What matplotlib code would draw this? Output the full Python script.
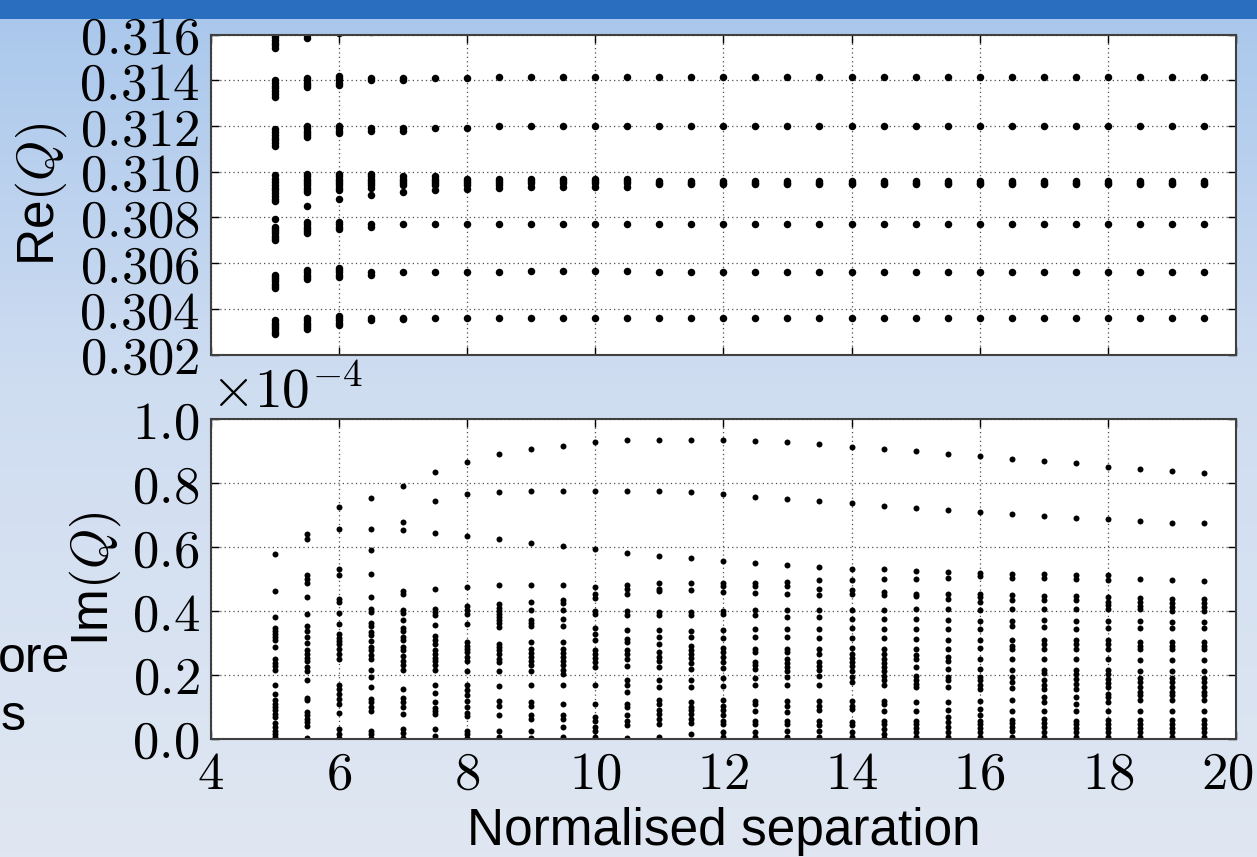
import matplotlib

matplotlib.use("Agg")
import matplotlib.pyplot as plt
import numpy as np
from matplotlib.colors import LinearSegmentedColormap
from matplotlib.patches import Rectangle
from matplotlib.ticker import FuncFormatter
from matplotlib.transforms import ScaledTranslation

# ---------------------------------------------------------------- data
sep = [5.0, 5.5, 6.0, 6.5, 7.0, 7.5, 8.0, 8.5, 9.0, 9.5,
       10.0, 10.5, 11.0, 11.5, 12.0, 12.5, 13.0, 13.5, 14.0, 14.5,
       15.0, 15.5, 16.0, 16.5, 17.0, 17.5, 18.0, 18.5, 19.0, 19.5]

# Re(Q) values per separation column
re_near = [
    [0.3160, 0.31588, 0.31576, 0.31564, 0.31552, 0.31543,
     0.3140, 0.31388, 0.31376, 0.31364, 0.31352, 0.3134, 0.31328,
     0.31185, 0.31173, 0.31161, 0.31149, 0.31137, 0.31125, 0.31112,
     0.30985, 0.30966, 0.30954, 0.30942, 0.3093, 0.30918, 0.30906, 0.30894, 0.30882, 0.3087,
     0.30791, 0.3076, 0.3075, 0.3074, 0.3073, 0.3072, 0.3071, 0.3070,
     0.3055, 0.3054, 0.3053, 0.3052, 0.3051, 0.3050, 0.3049,
     0.3035, 0.3034, 0.3033, 0.3032, 0.3031, 0.3030, 0.3029],
    [0.3160, 0.31585, 0.3141, 0.3140, 0.3139, 0.3138, 0.3137,
     0.3120, 0.3119, 0.3118, 0.3117, 0.3116, 0.3115,
     0.3099, 0.3098, 0.3097, 0.3096, 0.3095, 0.3094, 0.3093, 0.3092, 0.3091, 0.3085,
     0.3078, 0.3077, 0.3076, 0.3075, 0.3074, 0.3073,
     0.3057, 0.3056, 0.3055, 0.3054, 0.3053,
     0.3036, 0.3035, 0.3034, 0.3033, 0.3032, 0.3031],
    [0.31605, 0.3142, 0.3141, 0.3140, 0.3139, 0.3138,
     0.3120, 0.3119, 0.3118, 0.3117,
     0.3099, 0.3098, 0.3097, 0.3096, 0.3095, 0.3094, 0.3093, 0.3092, 0.3088,
     0.3078, 0.3077, 0.3076, 0.3075,
     0.3058, 0.3057, 0.3056, 0.3055, 0.3054,
     0.3037, 0.3036, 0.3035, 0.3034, 0.3033],
    [0.31612, 0.3141, 0.3140, 0.3119, 0.3118,
     0.3099, 0.3098, 0.3097, 0.3096, 0.3095, 0.3094, 0.3093, 0.3090,
     0.3077, 0.3076, 0.3056, 0.3055, 0.3036, 0.3035],
    [0.3141, 0.3140, 0.3119, 0.3118, 0.3098, 0.3097, 0.3096, 0.3095, 0.3094, 0.3091,
     0.3077, 0.3056, 0.3036, 0.30355],
    [0.3141, 0.3119, 0.3098, 0.3097, 0.3096, 0.3095, 0.3094, 0.3092, 0.3077, 0.3056, 0.3036],
    [0.3141, 0.3119, 0.3097, 0.3096, 0.3095, 0.3094, 0.30925, 0.3077, 0.3056, 0.3036],
    [0.31415, 0.3120, 0.3097, 0.3096, 0.3095, 0.3094, 0.3093, 0.3077, 0.3056, 0.3036],
]
# columns 9.0 .. 10.5 and 11.0 .. 19.5 sit on the same levels
re_mid_levels = [0.31415, 0.3120, 0.3097, 0.3096, 0.3095, 0.30935, 0.3077, 0.30565, 0.3036]
re_far_levels = [0.31415, 0.3120, 0.3096, 0.3095, 0.30945, 0.3077, 0.3056, 0.3036]
re_cols = re_near + [re_mid_levels] * 4 + [re_far_levels] * 18

# Im(Q) in units of 1e-4
IM_SCALE = 1e-4
im_top = [0.576, 0.640, 0.725, 0.753, 0.791, 0.833, 0.864, 0.889, 0.906, 0.916,
          0.927, 0.934, 0.934, 0.934, 0.934, 0.931, 0.927, 0.921, 0.913, 0.906,
          0.900, 0.892, 0.885, 0.875, 0.868, 0.861, 0.851, 0.843, 0.837, 0.830]
im_mid = [np.nan, 0.625, 0.655, 0.655, 0.678, 0.742, 0.764, 0.770, 0.774, 0.774,
          0.774, 0.774, 0.774, 0.770, 0.764, 0.756, 0.749, 0.743, 0.736, 0.729,
          0.722, 0.715, 0.708, 0.704, 0.697, 0.691, 0.687, 0.680, 0.676, 0.673]
im_cluster = [
    [0.461, 0.380, 0.347, 0.338, 0.328, 0.317, 0.307, 0.286, 0.248, 0.237, 0.226, 0.215,
     0.169, 0.140, 0.119, 0.109, 0.098, 0.088, 0.077, 0.067, 0.048, 0.036, 0.025, 0.015, 0.004],
    [0.511, 0.500, 0.488, 0.443, 0.389, 0.351, 0.338, 0.317, 0.299, 0.276, 0.265, 0.253, 0.242,
     0.224, 0.211, 0.182, 0.127, 0.119, 0.083, 0.072, 0.062, 0.051, 0.038, 0.002],
    [0.532, 0.511, 0.438, 0.427, 0.393, 0.357, 0.326, 0.315, 0.305, 0.295, 0.281, 0.265, 0.250,
     0.166, 0.154, 0.140, 0.124, 0.109, 0.079, 0.030, 0.015, 0.002],
    [0.589, 0.516, 0.443, 0.406, 0.396, 0.361, 0.351, 0.333, 0.323, 0.304, 0.286, 0.276, 0.260,
     0.250, 0.213, 0.192, 0.161, 0.124, 0.114, 0.098, 0.086, 0.023, 0.015, 0.002],
    [0.652, 0.461, 0.453, 0.403, 0.393, 0.372, 0.347, 0.336, 0.317, 0.307, 0.286, 0.276, 0.257,
     0.244, 0.229, 0.215, 0.154, 0.127, 0.114, 0.098, 0.077, 0.030, 0.017, 0.002],
    [0.642, 0.467, 0.406, 0.396, 0.385, 0.354, 0.320, 0.309, 0.297, 0.278, 0.265, 0.253, 0.242,
     0.229, 0.213, 0.166, 0.143, 0.114, 0.096, 0.086, 0.077, 0.030, 0.009],
    [0.634, 0.474, 0.414, 0.401, 0.389, 0.359, 0.302, 0.291, 0.281, 0.271, 0.255, 0.244, 0.211,
     0.166, 0.152, 0.135, 0.117, 0.098, 0.079, 0.069, 0.025, 0.013, 0.002],
    [0.624, 0.479, 0.420, 0.410, 0.400, 0.390, 0.380, 0.370, 0.361, 0.350, 0.297, 0.286, 0.276,
     0.263, 0.250, 0.239, 0.210, 0.163, 0.117, 0.103, 0.072, 0.025, 0.004],
    [0.613, 0.479, 0.427, 0.403, 0.372, 0.361, 0.351, 0.302, 0.281, 0.267, 0.255, 0.242, 0.229,
     0.211, 0.166, 0.114, 0.103, 0.072, 0.061, 0.025, 0.002],
    [0.603, 0.479, 0.434, 0.424, 0.403, 0.375, 0.351, 0.302, 0.281, 0.267, 0.255, 0.242, 0.229,
     0.213, 0.201, 0.169, 0.109, 0.072, 0.061, 0.036, 0.004],
    [0.592, 0.474, 0.451, 0.441, 0.399, 0.389, 0.347, 0.328, 0.309, 0.278, 0.265, 0.253, 0.239,
     0.224, 0.169, 0.107, 0.067, 0.056, 0.036, 0.023, 0.004],
    [0.582, 0.479, 0.469, 0.451, 0.399, 0.385, 0.340, 0.312, 0.302, 0.276, 0.263, 0.250, 0.226,
     0.182, 0.166, 0.145, 0.109, 0.098, 0.072, 0.056, 0.041, 0.002],
    [0.571, 0.487, 0.469, 0.462, 0.396, 0.385, 0.340, 0.317, 0.295, 0.271, 0.255, 0.242, 0.224,
     0.184, 0.161, 0.119, 0.109, 0.088, 0.077, 0.061, 0.046, 0.004],
    [0.565, 0.488, 0.466, 0.396, 0.385, 0.338, 0.317, 0.288, 0.276, 0.265, 0.253, 0.236, 0.218,
     0.184, 0.161, 0.114, 0.100, 0.088, 0.077, 0.061, 0.048, 0.013],
    [0.555, 0.487, 0.476, 0.458, 0.399, 0.389, 0.340, 0.315, 0.284, 0.271, 0.255, 0.239, 0.221,
     0.190, 0.164, 0.119, 0.103, 0.088, 0.072, 0.056, 0.044, 0.020, 0.006],
    [0.550, 0.487, 0.477, 0.456, 0.401, 0.385, 0.343, 0.317, 0.281, 0.271, 0.239, 0.229, 0.218,
     0.189, 0.166, 0.117, 0.107, 0.086, 0.056, 0.046, 0.020, 0.004],
    [0.544, 0.490, 0.477, 0.451, 0.401, 0.380, 0.343, 0.317, 0.281, 0.271, 0.250, 0.236, 0.224,
     0.211, 0.192, 0.168, 0.117, 0.103, 0.083, 0.056, 0.044, 0.023, 0.004],
    [0.537, 0.495, 0.469, 0.448, 0.401, 0.380, 0.343, 0.315, 0.281, 0.265, 0.239, 0.226, 0.213,
     0.197, 0.168, 0.117, 0.103, 0.088, 0.054, 0.041, 0.023, 0.004],
    [0.532, 0.495, 0.466, 0.453, 0.401, 0.375, 0.347, 0.315, 0.284, 0.265, 0.253, 0.239, 0.226,
     0.211, 0.194, 0.177, 0.117, 0.103, 0.092, 0.051, 0.041, 0.020, 0.004],
    [0.530, 0.498, 0.458, 0.448, 0.401, 0.375, 0.343, 0.315, 0.281, 0.265, 0.250, 0.236, 0.224,
     0.211, 0.197, 0.182, 0.168, 0.117, 0.107, 0.086, 0.056, 0.046, 0.030, 0.015, 0.002],
    [0.523, 0.498, 0.453, 0.445, 0.404, 0.373, 0.343, 0.310, 0.281, 0.260, 0.250, 0.224, 0.197,
     0.184, 0.171, 0.161, 0.114, 0.086, 0.056, 0.046, 0.033, 0.020, 0.004],
    [0.521, 0.502, 0.453, 0.438, 0.406, 0.372, 0.343, 0.309, 0.281, 0.255, 0.244, 0.218, 0.192,
     0.182, 0.161, 0.114, 0.088, 0.067, 0.051, 0.036, 0.020, 0.004],
    [0.518, 0.508, 0.453, 0.443, 0.427, 0.403, 0.369, 0.343, 0.307, 0.284, 0.250, 0.218, 0.194,
     0.182, 0.169, 0.156, 0.117, 0.092, 0.072, 0.056, 0.046, 0.033, 0.020, 0.004],
    [0.516, 0.503, 0.450, 0.434, 0.406, 0.369, 0.351, 0.309, 0.288, 0.281, 0.250, 0.215, 0.192,
     0.177, 0.159, 0.119, 0.085, 0.058, 0.048, 0.036, 0.023, 0.006],
    [0.516, 0.503, 0.445, 0.432, 0.406, 0.372, 0.349, 0.307, 0.295, 0.281, 0.250, 0.215, 0.205,
     0.184, 0.166, 0.156, 0.130, 0.114, 0.086, 0.061, 0.048, 0.036, 0.020, 0.006],
    [0.513, 0.500, 0.445, 0.432, 0.406, 0.368, 0.343, 0.307, 0.297, 0.281, 0.250, 0.215, 0.202,
     0.187, 0.171, 0.156, 0.130, 0.109, 0.086, 0.056, 0.046, 0.033, 0.020, 0.006],
    [0.511, 0.495, 0.443, 0.427, 0.417, 0.406, 0.368, 0.347, 0.309, 0.297, 0.281, 0.250, 0.213,
     0.201, 0.187, 0.174, 0.161, 0.140, 0.130, 0.114, 0.086, 0.058, 0.046, 0.033, 0.020, 0.006],
    [0.498, 0.441, 0.427, 0.415, 0.404, 0.368, 0.347, 0.302, 0.288, 0.281, 0.246, 0.211, 0.190,
     0.177, 0.161, 0.145, 0.135, 0.119, 0.086, 0.058, 0.046, 0.033, 0.020, 0.006],
    [0.495, 0.438, 0.424, 0.411, 0.399, 0.364, 0.347, 0.302, 0.288, 0.281, 0.246, 0.211, 0.190,
     0.177, 0.161, 0.145, 0.135, 0.119, 0.086, 0.058, 0.046, 0.033, 0.020, 0.006],
    [0.493, 0.438, 0.424, 0.411, 0.399, 0.364, 0.347, 0.302, 0.288, 0.281, 0.246, 0.211, 0.190,
     0.177, 0.161, 0.145, 0.135, 0.119, 0.086, 0.058, 0.046, 0.033, 0.020, 0.006],
]

re_ticks = [0.302, 0.304, 0.306, 0.308, 0.310, 0.312, 0.314, 0.316]
im_ticks = [0.0, 0.2, 0.4, 0.6, 0.8, 1.0]
x_ticks = [4, 6, 8, 10, 12, 14, 16, 18, 20]


def flatten(xs, cols, scale=1.0):
    px, py = [], []
    for x, col in zip(xs, cols):
        px.extend([x] * len(col))
        py.extend(v * scale for v in col)
    return np.array(px), np.array(py)


# ---------------------------------------------------------------- style
plt.rcParams.update(
    {
        "font.family": ["Liberation Sans", "DejaVu Sans"],
        "mathtext.fontset": "cm",
    }
)

W, H = 1257, 857
fig = plt.figure(figsize=(W / 100, H / 100), dpi=100)

# slide background
bg = fig.add_axes([0, 0, 1, 1], zorder=-10)
cmap = LinearSegmentedColormap.from_list(
    "slide",
    [(0.0, "#a9c7ec"), (0.45, "#cfddf1"), (1.0, "#e0e7f2")],
)
bg.imshow(np.linspace(0, 1, 256)[:, None], aspect="auto", cmap=cmap,
          extent=(0, 1, 0, 1), origin="upper")
bg.add_patch(Rectangle((0, 1 - 19 / H), 1, 19 / H, color="#2a6ebf", lw=0))
bg.set_xlim(0, 1)
bg.set_ylim(0, 1)
bg.axis("off")

# remnants of the slide's bullet text, partly hidden behind the chart
fig.text(70 / W, 1 - 672 / H, "ore", ha="right", va="baseline", fontsize=36)
fig.text(1 / W, 1 - 730 / H, "s", ha="left", va="baseline", fontsize=36)

left, width = 210.7 / W, 1025.3 / W
ax_re = fig.add_axes([left, 1 - 354.5 / H, width, 320 / H])
ax_im = fig.add_axes([left, 1 - 738.5 / H, width, 319.5 / H])

TICK_FS = 38
LABEL_FS = 37

for ax in (ax_re, ax_im):
    ax.set_facecolor("white")
    ax.set_xlim(4, 20)
    ax.set_xticks(x_ticks)
    ax.grid(True, color="0.3", linestyle=(0, (1, 2.5)), linewidth=0.9)
    ax.set_axisbelow(True)
    ax.tick_params(direction="in", length=6, width=1, top=True, right=True,
                   labelsize=TICK_FS, pad=8)
    for s in ax.spines.values():
        s.set_color("0.25")
        s.set_linewidth(1.5)

# upper panel
rx, ry = flatten(sep, re_cols)
ax_re.plot(rx, ry, linestyle="none", marker="o", ms=5.4, mew=0, color="k")
ax_re.set_ylim(0.302, 0.316)
ax_re.set_yticks(re_ticks)
ax_re.yaxis.set_major_formatter(FuncFormatter(lambda v, p: f"${v:.3f}$"))
ax_re.tick_params(axis="x", labelbottom=False)
ax_re.set_ylabel(r"Re$(Q)$", fontsize=LABEL_FS)
ax_re.yaxis.set_label_coords(-0.138, 0.5)

# lower panel
ix, iy = flatten(sep, im_cluster, IM_SCALE)
ax_im.plot(ix, iy, linestyle="none", marker="o", ms=4.3, mew=0, color="k")
ax_im.plot(sep, np.array(im_top) * IM_SCALE, linestyle="none", marker="o",
           ms=4.3, mew=0, color="k")
ax_im.plot(sep, np.array(im_mid) * IM_SCALE, linestyle="none", marker="o",
           ms=4.3, mew=0, color="k")
ax_im.set_ylim(0, 1.0 * IM_SCALE)
ax_im.set_yticks([t * IM_SCALE for t in im_ticks])
ax_im.yaxis.set_major_formatter(FuncFormatter(lambda v, p: f"${v / IM_SCALE:.1f}$"))
ax_im.xaxis.set_major_formatter(FuncFormatter(lambda v, p: f"${v:.0f}$"))
ax_im.text(0.0, 0.995, r"$\times10^{-4}$", transform=ax_im.transAxes,
           ha="left", va="bottom", fontsize=TICK_FS + 2)
ax_im.set_ylabel(r"Im$(Q)$", fontsize=LABEL_FS)
ax_im.yaxis.set_label_coords(-0.086, 0.5)
ax_im.set_xlabel("Normalised separation", fontsize=LABEL_FS, labelpad=5)

# the last x label sits against the right edge of the slide: nudge it in
fig.canvas.draw()
last = ax_im.get_xticklabels()[-1]
last.set_transform(last.get_transform() + ScaledTranslation(-0.09, 0, fig.dpi_scale_trans))

fig.savefig("out.png", dpi=100)
